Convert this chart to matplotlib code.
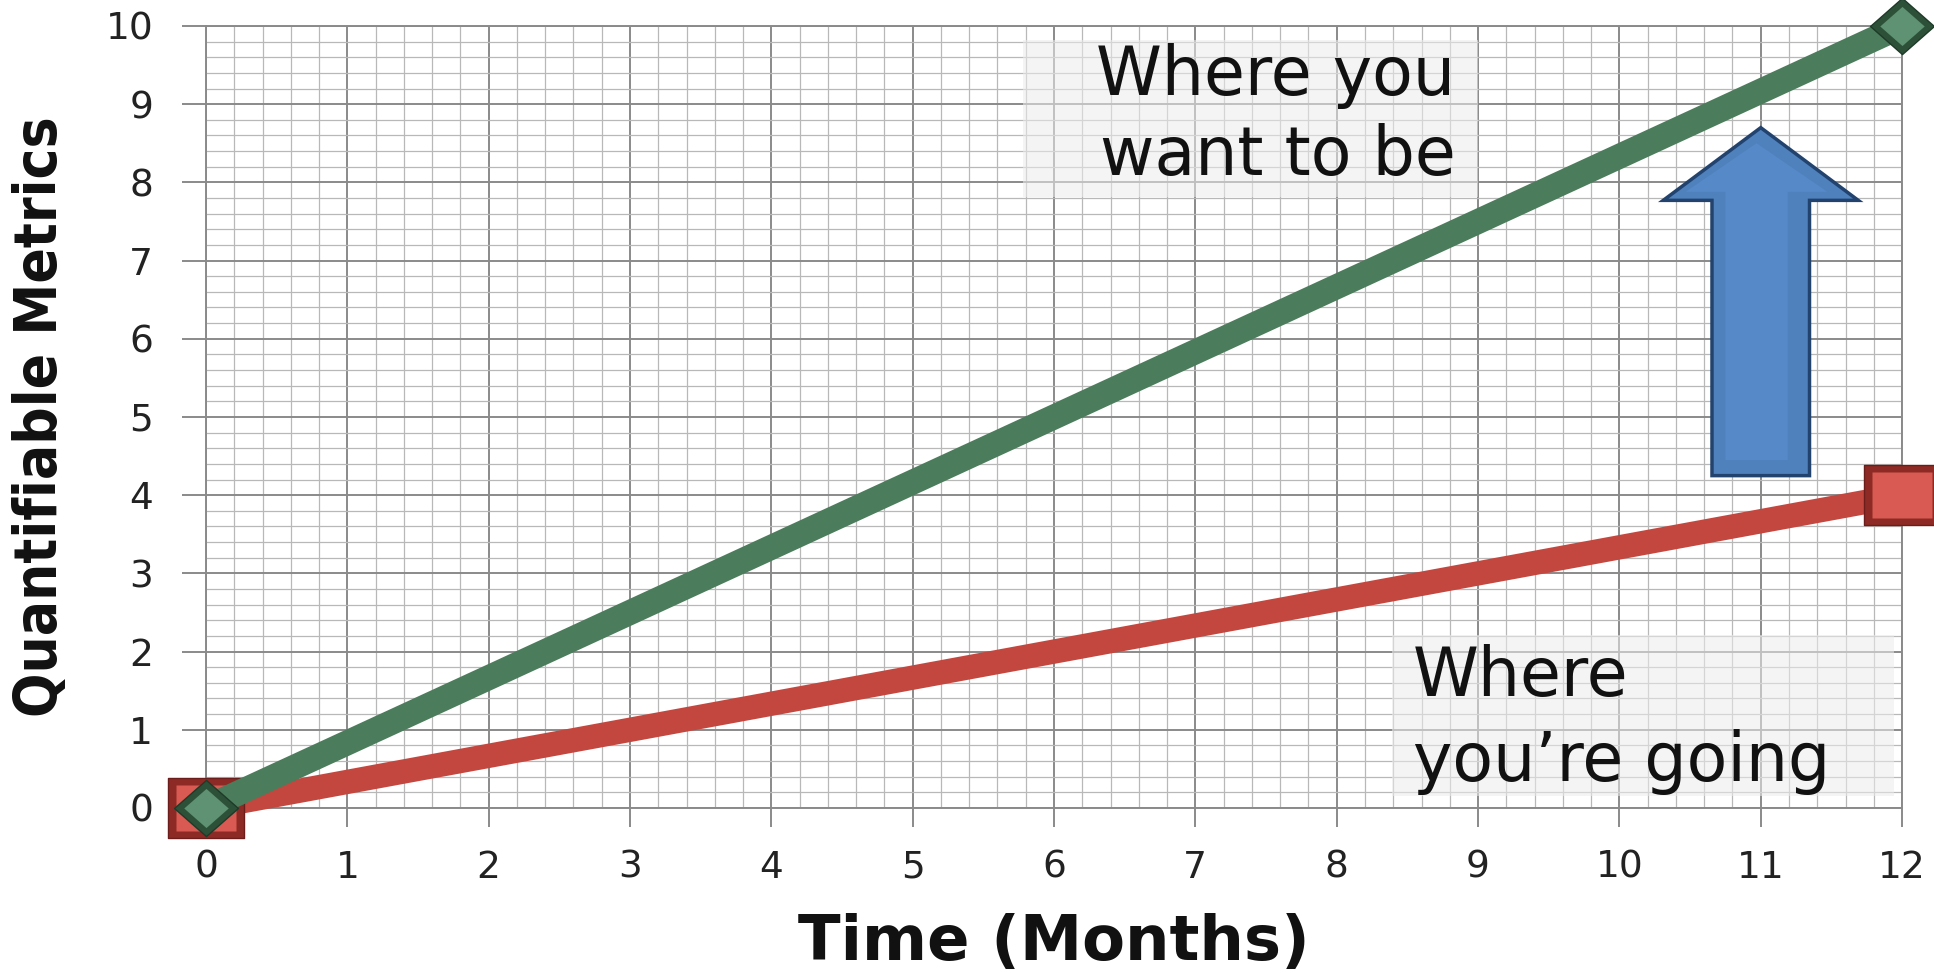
import matplotlib
matplotlib.use("Agg")
import matplotlib.pyplot as plt
import matplotlib.font_manager as fm
from matplotlib.path import Path
from matplotlib.patches import FancyArrow, Rectangle
from matplotlib.ticker import MultipleLocator

# ---- data -------------------------------------------------------------
months = [0, 12]
target_path = [0, 10]      # where you want to be
current_path = [0, 4]      # where you're going
x_ticks = list(range(0, 13))
y_ticks = list(range(0, 11))

target_label = ["Where you", "want to be"]
current_label = ["Where", "you\u2019re going"]
x_title = "Time (Months)"
y_title = "Quantifiable Metrics"

# ---- styling ----------------------------------------------------------
plt.rcParams["font.family"] = ["DejaVu Sans"]
GREEN, GREEN_DARK, GREEN_LIGHT = "#4b7c5b", "#2c5138", "#5e9272"
RED, RED_DARK, RED_LIGHT = "#c4473f", "#8e2a25", "#d85a52"
BLUE, BLUE_DARK = "#4f81bd", "#22436e"
MAJOR_GRID, MINOR_GRID = "#8a8a8a", "#b8b8b8"


def narrow_bold_font():
    """Prefer a bold condensed face for the vertical title if one exists."""
    wanted = ("Narrow", "Condensed")
    for f in fm.fontManager.ttflist:
        bold = f.weight in ("bold", 700, 600, "semibold", "demibold") or \
            (isinstance(f.weight, int) and f.weight >= 600)
        narrow = any(w in f.name for w in wanted) or \
            f.stretch in ("condensed", "semi-condensed")
        if bold and narrow and "Extra" not in f.name and "Ultra" not in f.name:
            return fm.FontProperties(fname=f.fname)
    return fm.FontProperties(family=["Roboto", "DejaVu Sans"], weight="bold")


fig = plt.figure(figsize=(19.34, 9.73), dpi=100)
ax = fig.add_axes([0.1065, 0.1696, 0.8770, 0.8037])
ax.set_xlim(0, 12)
ax.set_ylim(0, 10)

ax.set_xticks(x_ticks)
ax.set_yticks(y_ticks)
ax.xaxis.set_minor_locator(MultipleLocator(0.2))
ax.yaxis.set_minor_locator(MultipleLocator(0.2))
ax.set_axisbelow(True)
ax.grid(which="major", color=MAJOR_GRID, linewidth=1.4)
ax.grid(which="minor", color=MINOR_GRID, linewidth=0.9)
ax.tick_params(which="minor", length=0)
ax.tick_params(axis="y", which="major", length=17, width=1.4, color=MAJOR_GRID,
               pad=21, labelsize=27, direction="out")
ax.tick_params(axis="x", which="major", length=14, width=1.4, color=MAJOR_GRID,
               pad=16, labelsize=27, direction="out")
for side in ax.spines.values():
    side.set_color(MAJOR_GRID)
    side.set_linewidth(1.4)

# ---- annotation backdrops --------------------------------------------
ax.add_patch(Rectangle((5.78, 7.81), 3.22, 2.01, facecolor="#ececec",
                       alpha=0.55, edgecolor="none", zorder=1.5))
ax.add_patch(Rectangle((8.39, 0.15), 3.55, 2.06, facecolor="#ececec",
                       alpha=0.55, edgecolor="none", zorder=1.5))

# ---- gap arrow --------------------------------------------------------
ax.add_patch(FancyArrow(11, 4.25, 0, 4.45, width=0.69, head_width=1.38,
                        head_length=0.93, length_includes_head=True,
                        facecolor=BLUE, edgecolor=BLUE_DARK, linewidth=2.5,
                        zorder=3))
ax.add_patch(FancyArrow(10.97, 4.45, 0, 4.05, width=0.44, head_width=1.0,
                        head_length=0.62, length_includes_head=True,
                        facecolor="#5b8fcf", edgecolor="none", alpha=0.6,
                        zorder=3.1))

# ---- markers ----------------------------------------------------------
box = Path([(-1, -0.773), (1, -0.773), (1, 0.773), (-1, 0.773), (-1, -0.773)],
           [Path.MOVETO, Path.LINETO, Path.LINETO, Path.LINETO, Path.CLOSEPOLY])
diamond = Path([(0, -0.88), (1, 0), (0, 0.88), (-1, 0), (0, -0.88)],
               [Path.MOVETO, Path.LINETO, Path.LINETO, Path.LINETO, Path.CLOSEPOLY])

# current trajectory: line then beveled rectangles
ax.plot(months, current_path, color=RED, linewidth=17.5, solid_capstyle="butt",
        zorder=4, clip_on=False)
ax.plot(months, current_path, linestyle="none", marker=box, markersize=55,
        markerfacecolor=RED_DARK, markeredgecolor="#6a1d1a", markeredgewidth=1.0,
        zorder=4.2, clip_on=False)
ax.plot(months, current_path, linestyle="none", marker=box, markersize=43,
        markerfacecolor=RED_LIGHT, markeredgecolor="none", zorder=4.3,
        clip_on=False)

# target trajectory: line then beveled diamonds
ax.plot(months, target_path, color=GREEN, linewidth=18, solid_capstyle="butt",
        zorder=5, clip_on=False)
ax.plot(months, target_path, linestyle="none", marker=diamond, markersize=46,
        markerfacecolor=GREEN_DARK, markeredgecolor="#1f3a28", markeredgewidth=1.0,
        zorder=5.2, clip_on=False)
ax.plot(months, target_path, linestyle="none", marker=diamond, markersize=32,
        markerfacecolor=GREEN_LIGHT, markeredgecolor="none", zorder=5.3,
        clip_on=False)

# ---- labels inside the plot ------------------------------------------
ax.text(8.84, 9.12, target_label[0], ha="right", va="baseline", fontsize=48,
        color="#111111", zorder=6)
ax.text(8.84, 8.09, target_label[1], ha="right", va="baseline", fontsize=48,
        color="#111111", zorder=6)
ax.text(8.54, 1.43, current_label[0], ha="left", va="baseline", fontsize=48,
        color="#111111", zorder=6)
ax.text(8.54, 0.35, current_label[1], ha="left", va="baseline", fontsize=48,
        color="#111111", zorder=6)

# ---- axis titles ------------------------------------------------------
ax.set_xlabel(x_title, fontsize=45, fontweight="bold", color="#111111")
ax.xaxis.set_label_coords(0.5, -0.195)
ax.xaxis.label.set_verticalalignment("baseline")

ylab_font = narrow_bold_font()
ylab_font.set_size(48)
ax.set_ylabel(y_title, fontproperties=ylab_font, color="#111111")
ax.yaxis.set_label_coords(-0.0975, 0.5)
ax.yaxis.label.set_verticalalignment("center")

# size the vertical title so it runs about 600 px along the axis
fig.canvas.draw()
span = ax.yaxis.label.get_window_extent().height
ylab_font.set_size(48 * 600.0 / span)
ax.yaxis.label.set_fontproperties(ylab_font)

for lbl in ax.get_xticklabels() + ax.get_yticklabels():
    lbl.set_color("#222222")

fig.savefig("out.png", dpi=100, facecolor="white")
